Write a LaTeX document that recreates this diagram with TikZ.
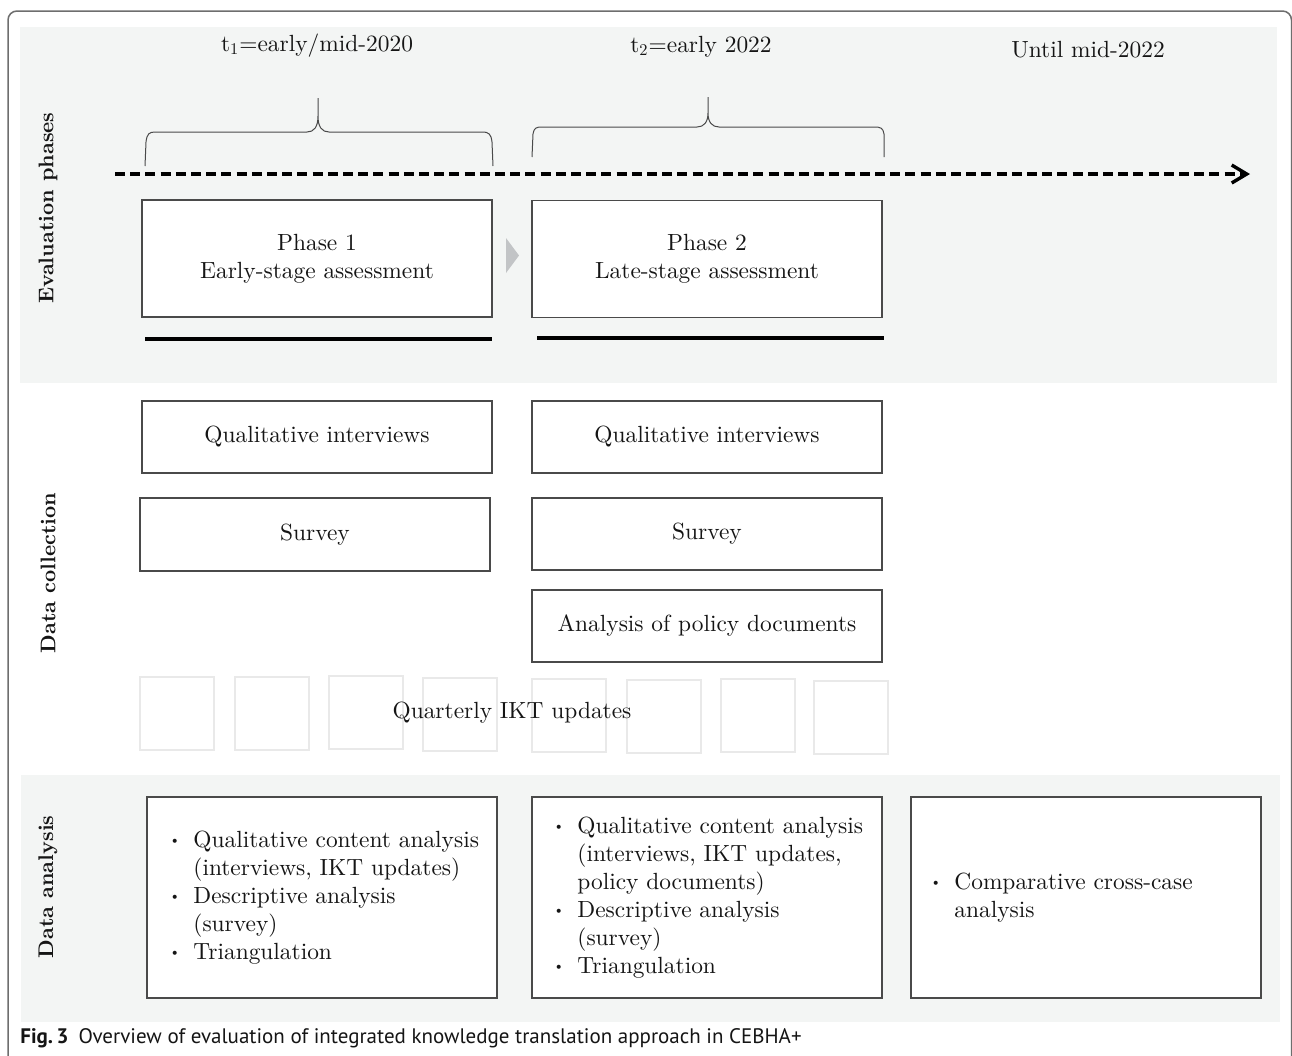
\documentclass[tikz,border=0pt]{standalone}
\usepackage{fontspec}
\setmainfont{lmroman10}[Extension=.otf, UprightFont=*-regular, BoldFont=*-bold, ItalicFont=*-italic, BoldItalicFont=*-bolditalic]
\newfontfamily\capfont{PT Sans}
\usetikzlibrary{arrows.meta}
\definecolor{band}{HTML}{F3F5F4}
\definecolor{boxline}{HTML}{4A4A4A}
\definecolor{iktc}{HTML}{E9E9E9}
\definecolor{framec}{HTML}{6E6E6E}
\definecolor{tric}{HTML}{C2C4C6}
\definecolor{ink}{HTML}{151515}
\newcommand\itembul{\makebox[12pt][l]{\raisebox{0.25ex}{\scriptsize\textbullet}}}
\newcommand\itemind{\hspace*{12pt}}
\begin{document}
\begin{tikzpicture}[x=0.5pt,y=-0.5pt,
  every node/.style={text=ink, font=\fontsize{11.7}{14}\selectfont},
  stagebox/.style={draw=boxline, line width=0.6pt, fill=white, minimum width=175pt, inner sep=0pt, align=center},
  iktbox/.style={draw=iktc, line width=1pt, minimum width=37pt, minimum height=36.5pt, inner sep=0pt},
  sidelabel/.style={rotate=90, inner sep=0pt, font=\fontsize{10.6}{13}\selectfont\bfseries},
  listtext/.style={anchor=west, align=left, inner sep=0pt},
  bracepath/.style={draw=boxline, line width=0.5pt},
  phaseline/.style={line width=1.9pt, draw=black},
]
\useasboundingbox (0,0) rectangle (1292,1056);
\clip (0,0) rectangle (1292,1056);
\fill[white] (0,0) rectangle (1292,1056);

% bands
\fill[band] (20,27) rectangle (1277,383);
\fill[band] (21,775) rectangle (1280,1022);

% outer frame
\draw[framec, line width=0.75pt, rounded corners=4.5pt] (8,1070) -- (8,11) -- (1291.5,11) -- (1291.5,1070);

% time labels
\node[anchor=base] (t1) at (317,51) {t\textsubscript{1}=early/mid-2020};
\node[anchor=base] (t2) at (701,52) {t\textsubscript{2}=early 2022};
\node[anchor=base] (t3) at (1088,57) {Until mid-2022};

% braces
\draw[bracepath] (145,166) -- (146,142) .. controls (147,134) and (149,132) .. (155,132)
  -- (307,132) .. controls (314,132) and (318,127) .. (318,116) -- (318,98)
  -- (318,116) .. controls (318,127) and (322,132) .. (329,132)
  -- (482,132) .. controls (489,132) and (491,134) .. (492,142) -- (493,166);
\draw[bracepath] (532,157) -- (533,134) .. controls (534,128) and (536,127) .. (542,127)
  -- (697,127) .. controls (704,127) and (708,122) .. (708,113) -- (708,97)
  -- (708,113) .. controls (708,122) and (712,127) .. (719,127)
  -- (874,127) .. controls (881,127) and (883,128) .. (884,134) -- (884,157);

% timeline
\coordinate (tlstart) at (115,174);
\coordinate (tlend) at (1250,174);
\draw[line width=1.7pt, dash pattern=on 5pt off 2.6pt, -{Straight Barb[length=7.5pt,width=9pt]}] (tlstart) -- (tlend);

% phases
\node[stagebox, minimum height=58.5pt] (p1) at (317,258.5) {Phase 1\\Early-stage assessment};
\node[stagebox, minimum height=58.5pt] (p2) at (707,259) {Phase 2\\Late-stage assessment};
\fill[tric] (506,238) -- (519,255.5) -- (506,273) -- cycle;
\draw[phaseline] (145,339) -- (492,339);
\draw[phaseline] (537,338) -- (884,338);

% data collection
\node[stagebox, minimum height=36pt] (qi1) at (317,437) {Qualitative interviews};
\node[stagebox, minimum height=36.5pt] (sv1) at (315,534.5) {Survey};
\node[stagebox, minimum height=36pt] (qi2) at (707,437) {Qualitative interviews};
\node[stagebox, minimum height=36pt] (sv2) at (707,534) {Survey};
\node[stagebox, minimum height=36pt] (pd2) at (707,626) {Analysis of policy documents};

% quarterly IKT updates
\node[iktbox] (k1) at (176.5,713) {};
\node[iktbox] (k2) at (271.5,713) {};
\node[iktbox] (k3) at (365.5,712.5) {};
\node[iktbox] (k4) at (459.5,714) {};
\node[iktbox] (k5) at (569,715) {};
\node[iktbox] (k6) at (664,716.5) {};
\node[iktbox] (k7) at (758,715) {};
\node[iktbox] (k8) at (851,717.5) {};
\node (iktlabel) at (512,713) {Quarterly IKT updates};

% data analysis
\node[stagebox, minimum height=100.5pt] (da1) at (322,897.5) {};
\node[stagebox, minimum height=100.5pt] (da2) at (707,897.5) {};
\node[stagebox, minimum height=100.5pt] (da3) at (1086,897.5) {};
\node[listtext] (la1) at (169,897.5) {\itembul Qualitative content analysis\\\itemind(interviews, IKT updates)\\\itembul Descriptive analysis\\\itemind(survey)\\\itembul Triangulation};
\node[listtext] (la2) at (553,897.5) {\itembul Qualitative content analysis\\\itemind(interviews, IKT updates,\\\itemind policy documents)\\\itembul Descriptive analysis\\\itemind(survey)\\\itembul Triangulation};
\node[listtext] (la3) at (930,897.5) {\itembul Comparative cross-case\\\itemind analysis};

% side labels
\node[sidelabel] (lbl1) at (48,208) {Evaluation phases};
\node[sidelabel] (lbl2) at (48,573) {Data collection};
\node[sidelabel] (lbl3) at (48,887) {Data analysis};

% caption
\node[anchor=base west, inner sep=0pt, font=\capfont\fontsize{10.5}{12}\selectfont] (cap) at (20,1043) {\textbf{Fig.\,3}\hspace{5pt}Overview of evaluation of integrated knowledge translation approach in CEBHA+};
\end{tikzpicture}
\end{document}
